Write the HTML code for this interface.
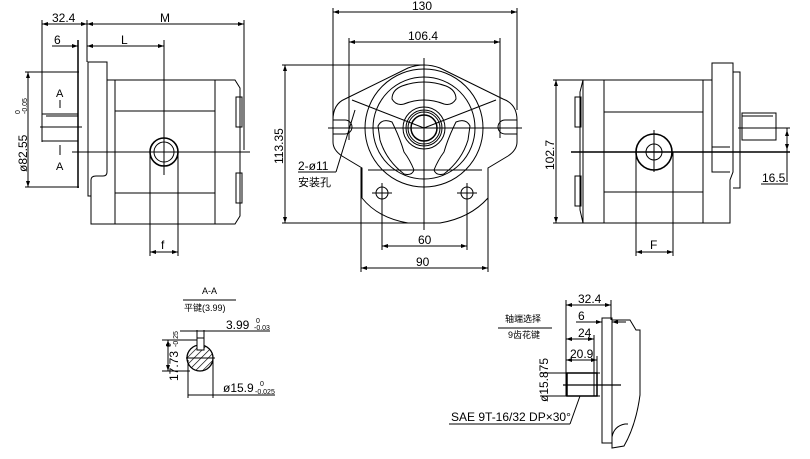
<!DOCTYPE html>
<html><head><meta charset="utf-8"><style>
html,body{margin:0;padding:0;background:#fff}
svg{display:block}
text{font-family:"Liberation Sans","Noto Sans CJK SC",sans-serif;fill:#000}
</style></head><body>
<svg width="810" height="459" viewBox="0 0 810 459" xmlns="http://www.w3.org/2000/svg" fill="none" stroke="#000" stroke-width="1">
<defs>
<marker id="a" markerWidth="6" markerHeight="4" refX="6" refY="2" orient="auto-start-reverse"><path d="M0,0L6,2L0,4z" fill="#000" stroke="none"/></marker>
<pattern id="h" width="5" height="5" patternUnits="userSpaceOnUse" patternTransform="rotate(45)"><line x1="0" y1="0" x2="0" y2="5" stroke="#000" stroke-width="1.3"/></pattern>
</defs>

<!-- ===== LEFT VIEW ===== -->
<g>
<line x1="42" y1="20" x2="42" y2="142"/>
<line x1="87" y1="20" x2="87" y2="62"/>
<line x1="244" y1="20" x2="244" y2="150"/>
<line x1="42" y1="24" x2="87" y2="24" marker-start="url(#a)" marker-end="url(#a)"/>
<line x1="87" y1="24" x2="244" y2="24" marker-start="url(#a)" marker-end="url(#a)"/>
<line x1="52" y1="46" x2="73" y2="46"/>
<line x1="72" y1="46" x2="78" y2="46" marker-end="url(#a)"/>
<line x1="87" y1="46" x2="164" y2="46" marker-start="url(#a)" marker-end="url(#a)"/>
<line x1="78" y1="40" x2="78" y2="188" stroke-width="1.5"/>
<line x1="164" y1="40" x2="164" y2="175"/>
<!-- flange -->
<path d="M88,62 H107 V172 Q107,176 103,176 H96 Q91,176 91,180 V196 H88 Z"/>
<!-- body -->
<path d="M107,80 H235 L240,88 V216 L235,224 H91 V196"/>
<line x1="115" y1="80" x2="115" y2="224"/>
<line x1="215" y1="80" x2="215" y2="224"/>
<line x1="115" y1="111" x2="215" y2="111"/>
<line x1="115" y1="193" x2="215" y2="193"/>
<rect x="236" y="97" width="6" height="30"/>
<rect x="236" y="173" width="6" height="30"/>
<!-- shaft -->
<rect x="42" y="114" width="36" height="27"/>
<line x1="46" y1="116" x2="78" y2="116"/>
<line x1="40" y1="127" x2="82" y2="127"/>
<!-- dim diameter -->
<line x1="25" y1="72" x2="79" y2="72"/>
<line x1="25" y1="187" x2="79" y2="187"/>
<line x1="28" y1="72" x2="28" y2="187" marker-start="url(#a)" marker-end="url(#a)"/>
<text transform="translate(27,172) rotate(-90)" font-size="12" stroke="none">ø82.55</text>
<text transform="translate(20,114) rotate(-90)" font-size="7" stroke="none">0</text>
<text transform="translate(27,114) rotate(-90)" font-size="7" stroke="none">-0.05</text>
<text x="56" y="97" font-size="11" stroke="none">A</text>
<line x1="60" y1="100" x2="60" y2="108"/>
<line x1="60" y1="145" x2="60" y2="155"/>
<text x="56" y="170" font-size="11" stroke="none">A</text>
<!-- port -->
<line x1="72" y1="152" x2="250" y2="152"/>
<circle cx="164" cy="152" r="14" stroke-width="1.6"/>
<circle cx="164" cy="152" r="10"/>
<line x1="150" y1="152" x2="150" y2="256"/>
<line x1="178" y1="152" x2="178" y2="256"/>
<line x1="150" y1="252" x2="178" y2="252" marker-start="url(#a)" marker-end="url(#a)"/>
<text x="161" y="249" font-size="12" font-family="Liberation Serif" stroke="none">f</text>
<text x="52" y="22" font-size="12" stroke="none">32.4</text>
<text x="160" y="22" font-size="12" stroke="none">M</text>
<text x="54" y="44" font-size="12" stroke="none">6</text>
<text x="121" y="44" font-size="12" stroke="none">L</text>
</g>

<!-- ===== FRONT VIEW ===== -->
<g>
<line x1="333" y1="8" x2="333" y2="122"/>
<line x1="517" y1="8" x2="517" y2="110"/>
<line x1="333" y1="12" x2="517" y2="12" marker-start="url(#a)" marker-end="url(#a)"/>
<text x="412" y="10" font-size="12" stroke="none">130</text>
<line x1="349" y1="38" x2="349" y2="140"/>
<line x1="500" y1="38" x2="500" y2="138"/>
<line x1="349" y1="42" x2="500" y2="42" marker-start="url(#a)" marker-end="url(#a)"/>
<text x="408" y="40" font-size="12" stroke="none">106.4</text>
<line x1="282" y1="65" x2="425" y2="65"/>
<line x1="282" y1="223" x2="430" y2="223"/>
<line x1="285" y1="65" x2="285" y2="223" marker-start="url(#a)" marker-end="url(#a)"/>
<text transform="translate(283,164) rotate(-90)" font-size="12" stroke="none">113.35</text>
<!-- flange outline -->
<path d="M345,99 L408,68 Q424,62 440,68 L503,99 Q517,104 517,120 V142 Q517,150 508,156 L488,168 V198 Q470,218 440,223 H408 Q378,218 362,198 V168 L342,156 Q333,150 333,142 V120 Q333,104 345,99 Z"/>
<path d="M333,120 H345 A7,7 0 0 1 345,134 H333"/>
<path d="M517,120 H505 A7,7 0 0 0 505,134 H517"/>
<line x1="368" y1="170" x2="482" y2="170"/>
<circle cx="424" cy="128" r="59"/>
<circle cx="424" cy="128" r="51"/>
<!-- cutouts -->
<path d="M392,99 Q392,90 402,86 Q424,78 446,86 Q456,90 456,99 Q452,106 444,104 Q424,96 404,104 Q396,106 392,99 Z"/>
<path d="M378,126 Q382,118 392,122 Q400,138 404,152 Q410,160 414,170 Q412,176 404,174 Q386,160 380,140 Z"/>
<path d="M470,126 Q466,118 456,122 Q448,138 444,152 Q438,160 434,170 Q436,176 444,174 Q462,160 468,140 Z"/>
<line x1="352" y1="100" x2="424" y2="128"/>
<line x1="496" y1="100" x2="424" y2="128"/>
<circle cx="424" cy="128" r="21"/>
<circle cx="424" cy="128" r="18"/>
<circle cx="424" cy="128" r="16"/>
<circle cx="424" cy="128" r="13" stroke-width="1.5"/>
<line x1="328" y1="128" x2="522" y2="128"/>
<line x1="424" y1="58" x2="424" y2="230"/>
<!-- bottom bolts -->
<circle cx="382" cy="193" r="6"/>
<circle cx="467" cy="193" r="6"/>
<line x1="372" y1="193" x2="392" y2="193"/>
<line x1="457" y1="193" x2="477" y2="193"/>
<line x1="382" y1="183" x2="382" y2="250"/>
<line x1="467" y1="183" x2="467" y2="250"/>
<line x1="382" y1="246" x2="467" y2="246" marker-start="url(#a)" marker-end="url(#a)"/>
<text x="418" y="244" font-size="12" stroke="none">60</text>
<line x1="361" y1="168" x2="361" y2="272"/>
<line x1="488" y1="168" x2="488" y2="272"/>
<line x1="361" y1="268" x2="488" y2="268" marker-start="url(#a)" marker-end="url(#a)"/>
<text x="416" y="266" font-size="12" stroke="none">90</text>
<!-- leader -->
<line x1="355" y1="110" x2="336" y2="172"/>
<line x1="298" y1="172" x2="336" y2="172"/>
<text x="298" y="170" font-size="12" stroke="none">2-ø11</text>
<text x="298" y="186" font-size="11" stroke="none">安装孔</text>
</g>

<!-- ===== RIGHT VIEW ===== -->
<g>
<path d="M583,80 H712 M583,223 H730 V180 L733,172 V63 H712 V172 H730"/>
<path d="M583,80 L580,92 V210 L583,223"/>
<line x1="583" y1="80" x2="583" y2="223"/>
<line x1="604" y1="80" x2="604" y2="223"/>
<line x1="703" y1="80" x2="703" y2="223"/>
<line x1="712" y1="80" x2="712" y2="172"/>
<line x1="604" y1="112" x2="703" y2="112"/>
<line x1="604" y1="192" x2="703" y2="192"/>
<rect x="575" y="97" width="6" height="30"/>
<rect x="575" y="176" width="6" height="30"/>
<line x1="712" y1="147" x2="730" y2="147"/>
<path d="M733,72 H740 V188 H733"/>
<rect x="742" y="113" width="34" height="27"/>
<line x1="742" y1="116" x2="773" y2="116"/>
<line x1="738" y1="128" x2="790" y2="128"/>
<line x1="571" y1="152" x2="790" y2="152" stroke-width="1.4"/>
<circle cx="654" cy="152" r="18" stroke-width="1.6"/>
<circle cx="654" cy="152" r="8"/>
<line x1="654" y1="130" x2="654" y2="172"/>
<line x1="636" y1="152" x2="636" y2="256"/>
<line x1="673" y1="152" x2="673" y2="256"/>
<line x1="636" y1="252" x2="673" y2="252" marker-start="url(#a)" marker-end="url(#a)"/>
<text x="650" y="249" font-size="12" font-family="Liberation Serif" stroke="none">F</text>
<line x1="553" y1="80" x2="583" y2="80"/>
<line x1="553" y1="223" x2="583" y2="223"/>
<line x1="556" y1="80" x2="556" y2="223" marker-start="url(#a)" marker-end="url(#a)"/>
<text transform="translate(554,170) rotate(-90)" font-size="12" stroke="none">102.7</text>
<line x1="787" y1="128" x2="787" y2="182"/>
<line x1="787" y1="130" x2="787" y2="150" marker-start="url(#a)" marker-end="url(#a)"/>
<line x1="761" y1="184" x2="788" y2="184"/>
<text x="762" y="182" font-size="12" stroke="none">16.5</text>
</g>

<!-- ===== A-A SECTION ===== -->
<g>
<text x="202" y="294" font-size="9" stroke="none">A-A</text>
<line x1="183" y1="300" x2="236" y2="300"/>
<text x="184" y="311" font-size="9" stroke="none">平键(3.99)</text>
<circle cx="200" cy="358" r="13" fill="url(#h)" stroke-width="1.3"/>
<rect x="197" y="338" width="7" height="12" fill="#fff"/>
<line x1="197" y1="330" x2="197" y2="350"/>
<line x1="204" y1="330" x2="204" y2="350"/>
<line x1="180" y1="331" x2="270" y2="331"/>
<line x1="186" y1="358" x2="215" y2="358"/>
<line x1="162" y1="340" x2="197" y2="340"/>
<line x1="162" y1="371" x2="190" y2="371"/>
<line x1="168" y1="340" x2="168" y2="371" marker-start="url(#a)" marker-end="url(#a)"/>
<line x1="188" y1="360" x2="188" y2="398"/>
<line x1="213" y1="360" x2="213" y2="398"/>
<line x1="188" y1="395" x2="275" y2="395"/>
<text x="226" y="329" font-size="12" stroke="none">3.99</text>
<text x="256" y="323" font-size="7" stroke="none">0</text>
<text x="254" y="330" font-size="7" stroke="none">-0.03</text>
<text transform="translate(178,381) rotate(-90)" font-size="12" stroke="none">17.73</text>
<text transform="translate(171,347) rotate(-90)" font-size="7" stroke="none">0</text>
<text transform="translate(178,347) rotate(-90)" font-size="7" stroke="none">-0.25</text>
<text x="223" y="392" font-size="12" stroke="none">ø15.9</text>
<text x="260" y="386" font-size="7" stroke="none">0</text>
<text x="255" y="394" font-size="7" stroke="none">-0.025</text>
</g>

<!-- ===== SPLINE SHAFT ===== -->
<g>
<text x="505" y="322" font-size="9" stroke="none">轴端选择</text>
<line x1="498" y1="328" x2="552" y2="328"/>
<text x="508" y="338" font-size="9" stroke="none">9齿花键</text>
<line x1="566" y1="300" x2="566" y2="396"/>
<line x1="611" y1="300" x2="611" y2="320"/>
<line x1="566" y1="305" x2="611" y2="305" marker-start="url(#a)" marker-end="url(#a)"/>
<text x="578" y="303" font-size="12" stroke="none">32.4</text>
<text x="578" y="320" font-size="12" stroke="none">6</text>
<line x1="576" y1="322" x2="602" y2="322" marker-end="url(#a)"/>
<line x1="612" y1="322" x2="626" y2="322" marker-start="url(#a)"/>
<line x1="566" y1="339" x2="594" y2="339" marker-start="url(#a)" marker-end="url(#a)"/>
<text x="578" y="337" font-size="12" stroke="none">24</text>
<line x1="566" y1="360" x2="597" y2="360" marker-start="url(#a)" marker-end="url(#a)"/>
<text x="570" y="358" font-size="12" stroke="none">20.9</text>
<line x1="597" y1="356" x2="597" y2="396"/>
<line x1="594" y1="335" x2="594" y2="396"/>
<rect x="567" y="373" width="30" height="23" stroke-width="1.5"/>
<line x1="540" y1="373" x2="600" y2="373"/>
<line x1="540" y1="396" x2="600" y2="396"/>
<line x1="563" y1="385" x2="621" y2="385" stroke-width="1.3"/>
<text transform="translate(548,402) rotate(-90)" font-size="12" stroke="none">ø15.875</text>
<rect x="602" y="318" width="10" height="125"/>
<path d="M612,320 H630 L636,330 H640 V395 Q636,425 624,446 L612,448 V437 Q614,426 625,424 L628,424"/>
<line x1="612" y1="322" x2="612" y2="446"/>
<line x1="580" y1="396" x2="570" y2="424"/>
<line x1="449" y1="424" x2="570" y2="424"/>
<text x="451" y="421" font-size="12" font-family="Liberation Serif" stroke="none">SAE 9T-16/32 DP×30°</text>
</g>
</svg>
</body></html>
